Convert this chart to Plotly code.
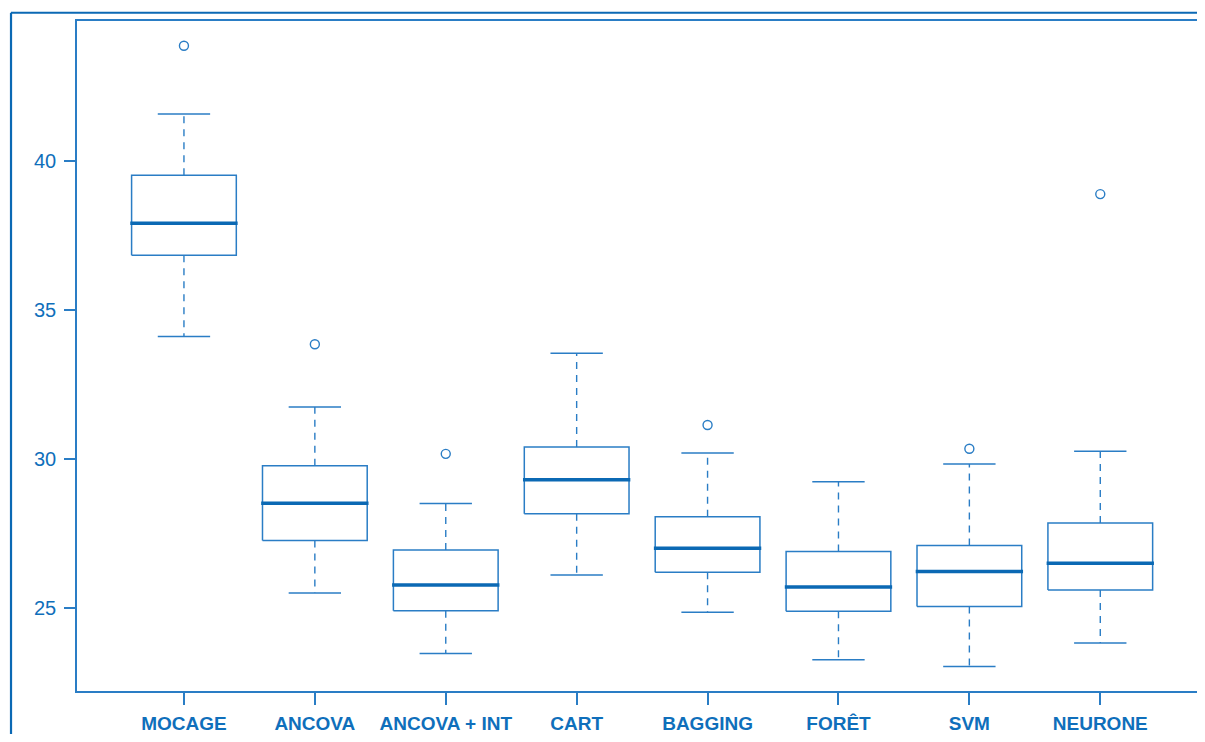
import plotly.graph_objects as go

categories = ["MOCAGE", "ANCOVA", "ANCOVA + INT", "CART", "BAGGING", "FORÊT", "SVM", "NEURONE"]
lower_whisker = [34.11, 25.50, 23.47, 26.10, 24.85, 23.26, 23.03, 23.82]
q1 = [36.84, 27.26, 24.90, 28.16, 26.20, 24.89, 25.05, 25.60]
median = [37.91, 28.51, 25.77, 29.30, 27.00, 25.70, 26.22, 26.50]
q3 = [39.52, 29.77, 26.94, 30.40, 28.06, 26.89, 27.09, 27.85]
upper_whisker = [41.58, 31.74, 28.50, 33.55, 30.20, 29.23, 29.83, 30.26]
outlier_cat = ["MOCAGE", "ANCOVA", "ANCOVA + INT", "BAGGING", "SVM", "NEURONE"]
outlier_val = [43.87, 33.85, 30.17, 31.14, 30.34, 38.89]
y_ticks = [25, 30, 35, 40]

LINE = "#2a7dc5"
DARK = "#0b69b4"
TEXT = "#0f6fbb"
BW = 0.4   # half box width (category units)
CW = 0.2   # half cap width
MW = 0.41  # half median width

box_x, box_y = [], []
med_x, med_y = [], []
wh_x, wh_y = [], []
cap_x, cap_y = [], []
for i in range(len(categories)):
    box_x += [i - BW, i + BW, i + BW, i - BW, i - BW, None]
    box_y += [q1[i], q1[i], q3[i], q3[i], q1[i], None]
    med_x += [i - MW, i + MW, None]
    med_y += [median[i], median[i], None]
    wh_x += [i, i, None, i, i, None]
    wh_y += [q3[i], upper_whisker[i], None, q1[i], lower_whisker[i], None]
    cap_x += [i - CW, i + CW, None, i - CW, i + CW, None]
    cap_y += [upper_whisker[i], upper_whisker[i], None, lower_whisker[i], lower_whisker[i], None]

fig = go.Figure()
fig.add_trace(go.Scatter(x=wh_x, y=wh_y, mode="lines",
                         line=dict(color=LINE, width=1.4, dash="7px,6px"), hoverinfo="skip"))
fig.add_trace(go.Scatter(x=cap_x, y=cap_y, mode="lines",
                         line=dict(color=LINE, width=1.5), hoverinfo="skip"))
fig.add_trace(go.Scatter(x=box_x, y=box_y, mode="lines",
                         line=dict(color=LINE, width=1.5), hoverinfo="skip"))
fig.add_trace(go.Scatter(x=med_x, y=med_y, mode="lines",
                         line=dict(color=DARK, width=3.5), hoverinfo="skip"))
fig.add_trace(go.Scatter(x=[categories.index(c) for c in outlier_cat], y=outlier_val,
                         mode="markers",
                         marker=dict(symbol="circle-open", size=9, color=LINE, line=dict(width=1.4)),
                         hoverinfo="skip"))

fig.update_layout(
    width=1197, height=726,
    margin=dict(l=69, r=0, t=13, b=36),
    paper_bgcolor="white", plot_bgcolor="white",
    showlegend=False,
    font=dict(family="Liberation Sans, Arial, sans-serif", color=TEXT),
    xaxis=dict(
        range=[-0.817, 7.80],
        tickmode="array", tickvals=list(range(len(categories))), ticktext=categories,
        tickfont=dict(family="Liberation Sans, Arial", size=19, color=TEXT, weight="bold"),
        showgrid=False, zeroline=False,
        showline=True, linecolor=LINE, linewidth=1.5, mirror=True,
        ticks="outside", ticklen=12, tickcolor=LINE, tickwidth=1.5,
        ticklabelstandoff=2,
    ),
    yaxis=dict(
        range=[22.21, 44.70],
        tickmode="array", tickvals=y_ticks, ticktext=[str(v) for v in y_ticks],
        tickfont=dict(size=20, color=TEXT),
        showgrid=False, zeroline=False,
        showline=True, linecolor=LINE, linewidth=1.5, mirror=False,
        ticks="outside", ticklen=11, tickcolor=LINE, tickwidth=1.5,
        ticklabelstandoff=4,
    ),
    shapes=[
        dict(type="line", xref="paper", yref="paper", x0=-0.0585, x1=-0.0585, y0=-0.1, y1=1.0123,
             line=dict(color=DARK, width=2.2)),
        dict(type="line", xref="paper", yref="paper", x0=-0.0585, x1=1.01, y0=1.0123, y1=1.0123,
             line=dict(color=DARK, width=2.2)),
    ],
)

fig.write_html("out.html")
